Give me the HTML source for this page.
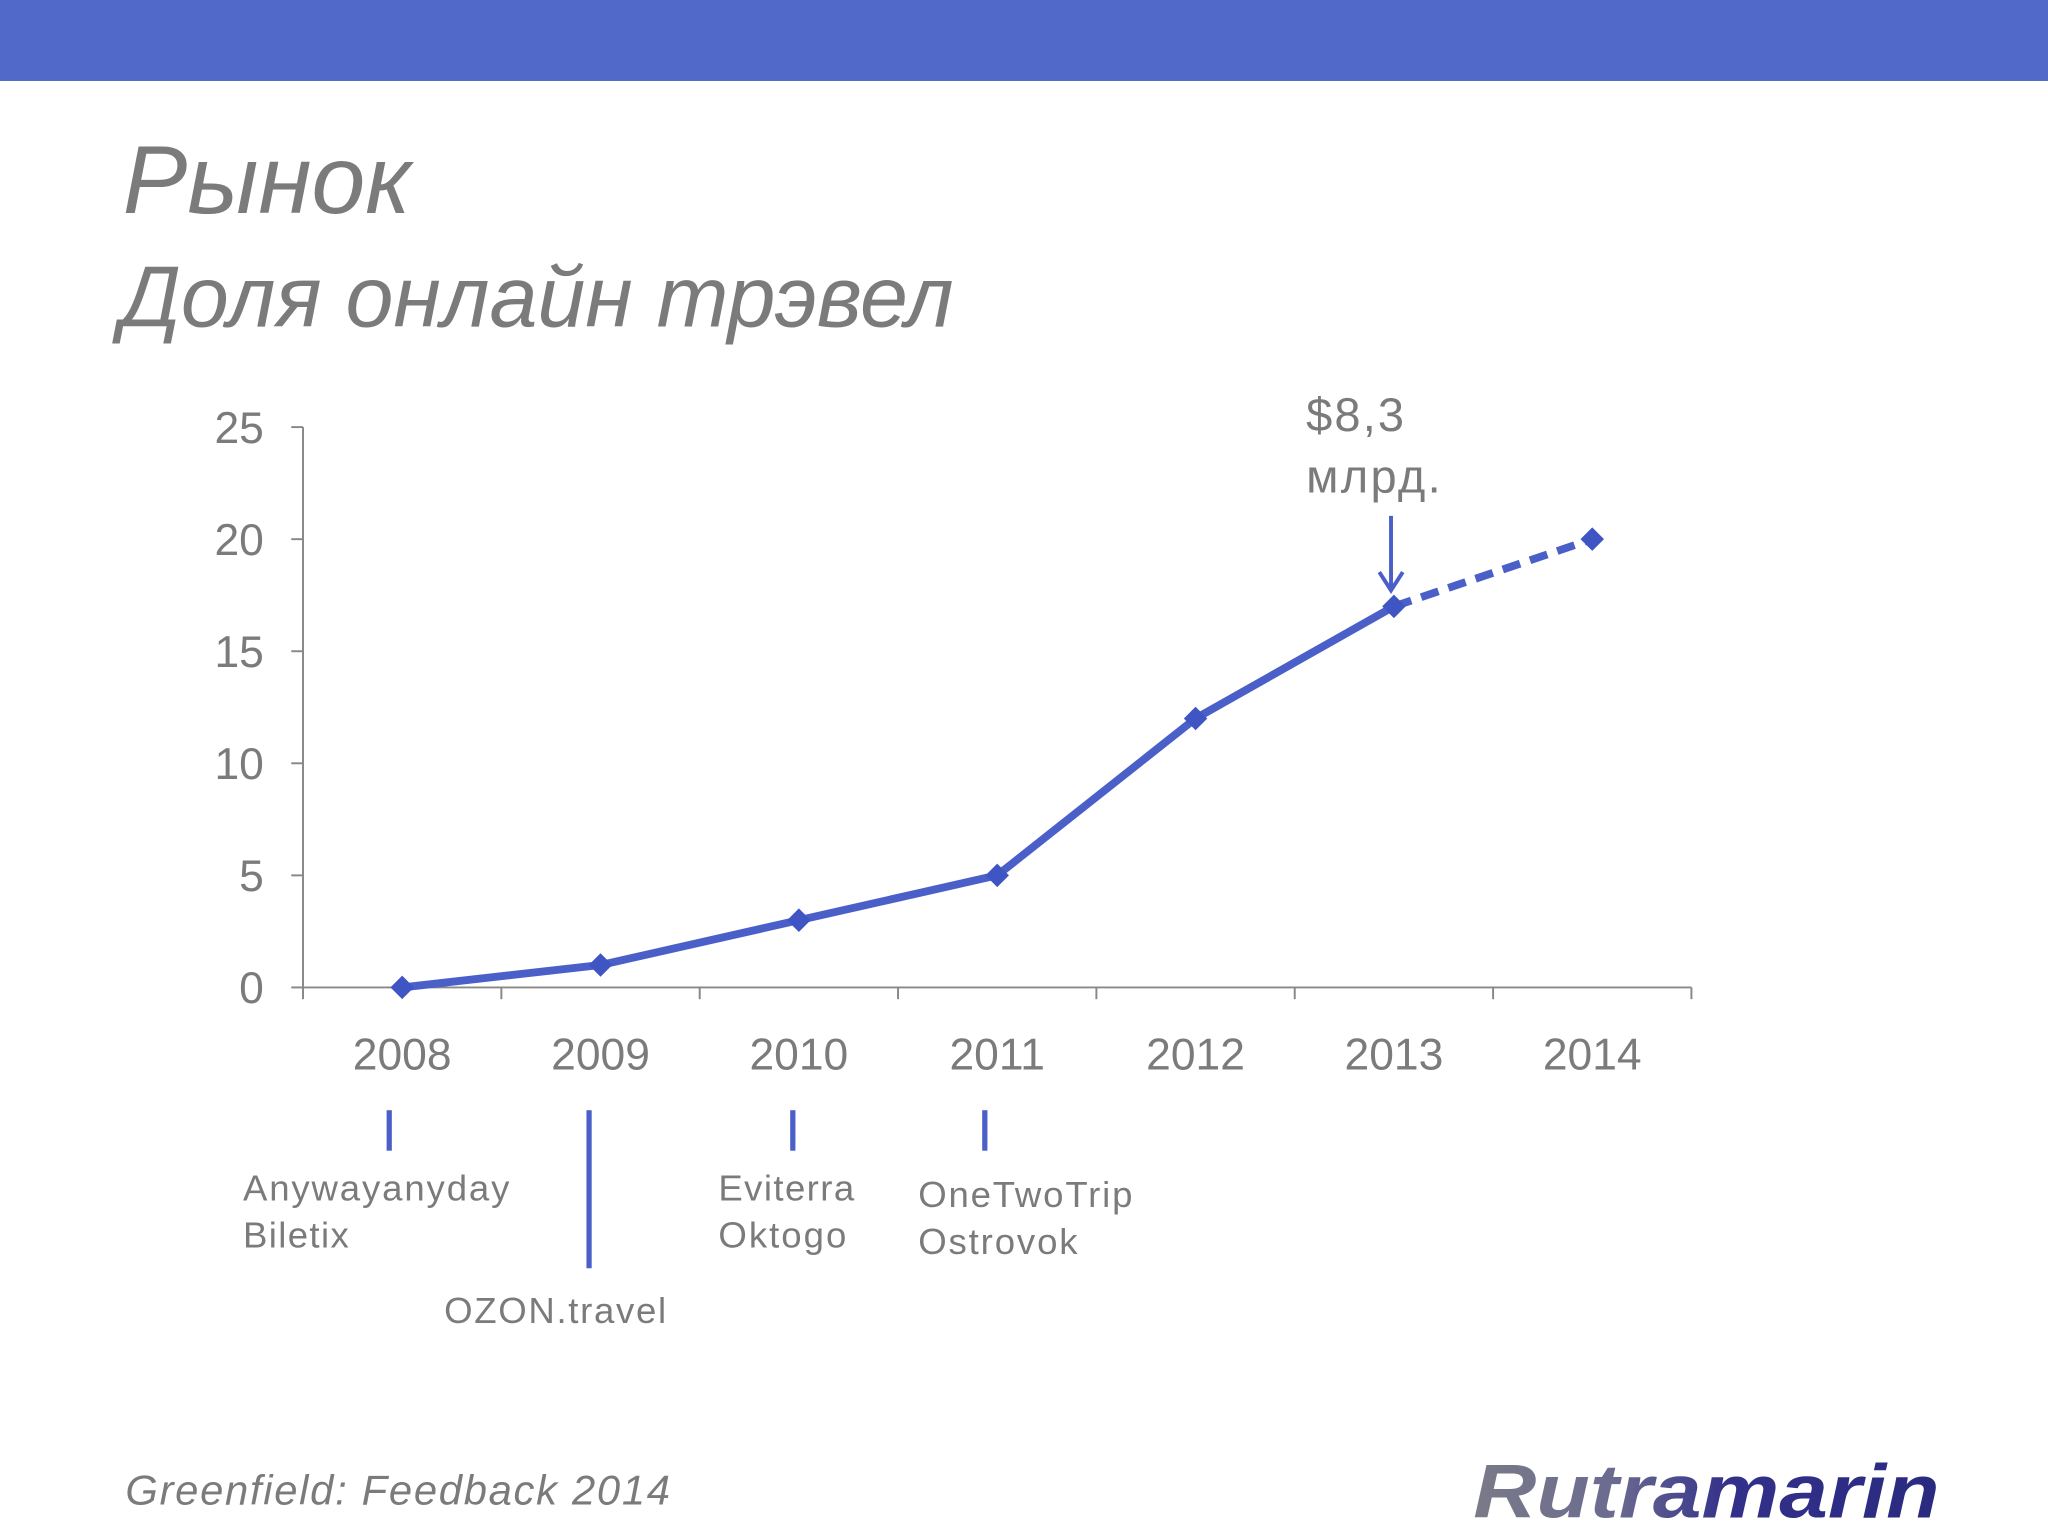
<!DOCTYPE html>
<html><head><meta charset="utf-8"><style>
html,body{margin:0;padding:0;background:#fff;}
svg{display:block;font-family:"Liberation Sans",sans-serif;}
</style></head><body>
<svg width="2048" height="1536" viewBox="0 0 1568 1176">
<defs><linearGradient id="lg" x1="0" x2="1"><stop offset="0" stop-color="#7a7a88"/><stop offset="0.3" stop-color="#6b6b90"/><stop offset="0.55" stop-color="#33308a"/><stop offset="1" stop-color="#2a2a80"/></linearGradient></defs>
<rect x="0" y="0" width="1568" height="62" fill="#5169c8"/>
<text x="94" y="163" font-size="74" font-style="italic" fill="#7b7b7b">Рынок</text>
<text x="92" y="250" font-size="66" font-style="italic" fill="#7b7b7b">Доля онлайн трэвел</text>
<g id="chart"></g>
<text x="1000" y="330" font-size="36" fill="#7b7b7b" textLength="75">$8,3</text>
<text x="1000" y="377" font-size="36" fill="#7b7b7b" textLength="103">млрд.</text>
<line x1="1065" y1="395" x2="1065" y2="450" stroke="#4a5fc8" stroke-width="3"/>
<polyline points="1056,438 1065,452 1074,438" fill="none" stroke="#4a5fc8" stroke-width="3"/>
<g fill="#4a5fc8">
<rect x="296" y="850" width="4" height="31"/>
<rect x="449" y="850" width="4" height="121"/>
<rect x="605" y="850" width="4" height="31"/>
<rect x="752" y="850" width="4" height="31"/>
</g>
<g font-size="28" fill="#7b7b7b">
<text x="186" y="919" textLength="204">Anywayanyday</text>
<text x="186" y="955" textLength="81">Biletix</text>
<text x="340" y="1013" textLength="170">OZON.travel</text>
<text x="550" y="919" textLength="104">Eviterra</text>
<text x="550" y="955" textLength="98">Oktogo</text>
<text x="703" y="924" textLength="164">OneTwoTrip</text>
<text x="703" y="960" textLength="122">Ostrovok</text>
</g>
<text x="96" y="1152" font-size="32" font-style="italic" fill="#7b7b7b" textLength="417">Greenfield: Feedback 2014</text>
<text x="1128" y="1162" font-size="58" font-weight="bold" font-style="italic" fill="url(#lg)" textLength="357" lengthAdjust="spacingAndGlyphs">Rutramarin</text>
</svg>
<script>
const categories=["2008","2009","2010","2011","2012","2013","2014"];
const values=[0,1,3,5,12,17,20];
const yTicks=[0,5,10,15,20,25];
const forecastFrom=5;
const NS="http://www.w3.org/2000/svg";
const g=document.getElementById('chart');
const x0=232,x1=1295,yb=756,yt=327,ymax=25;
const bw=(x1-x0)/categories.length;
const X=i=>x0+bw*(i+0.5);
const Y=v=>yb-(v/ymax)*(yb-yt);
function mk(t,a){const e=document.createElementNS(NS,t);for(const k in a)e.setAttribute(k,a[k]);g.appendChild(e);return e;}
let ax=mk('line',{x1:x0,y1:Y(ymax),x2:x0,y2:yb,stroke:'#888','stroke-width':1.5});


let bx=mk('line',{x1:x0,y1:yb,x2:x1,y2:yb,stroke:'#888','stroke-width':1.5});


yTicks.forEach(v=>{
 mk('line',{x1:x0-9,y1:Y(v),x2:x0,y2:Y(v),stroke:'#888','stroke-width':1.5});
 const t=mk('text',{x:x0-30,y:Y(v)+12,'text-anchor':'end','font-size':34,fill:'#7b7b7b'});
 t.textContent=v;
 
 
});
for(let i=0;i<=categories.length;i++)mk('line',{x1:x0+bw*i,y1:yb,x2:x0+bw*i,y2:yb+9,stroke:'#888','stroke-width':1.5});
categories.forEach((c,i)=>{
 const t=mk('text',{x:X(i),y:819,'text-anchor':'middle','font-size':34,fill:'#7b7b7b'});
 t.textContent=c;
 
 
});
const solid=values.slice(0,forecastFrom+1).map((v,i)=>X(i)+','+Y(v)).join(' ');
const sl=mk('polyline',{points:solid,fill:'none',stroke:'#4a5fc8','stroke-width':6,'stroke-linejoin':'round'});


const dashed=values.slice(forecastFrom).map((v,i)=>X(i+forecastFrom)+','+Y(v)).join(' ');
const dl=mk('polyline',{points:dashed,fill:'none',stroke:'#4a5fc8','stroke-width':6,'stroke-dasharray':'14 8'});


values.forEach((v,i)=>{
 const x=X(i),y=Y(v),s=9;
 const p=mk('polygon',{points:`${x},${y-s} ${x+s},${y} ${x},${y+s} ${x-s},${y}`,fill:'#3f55c4'});
 
 
});
</script>
</body></html>
